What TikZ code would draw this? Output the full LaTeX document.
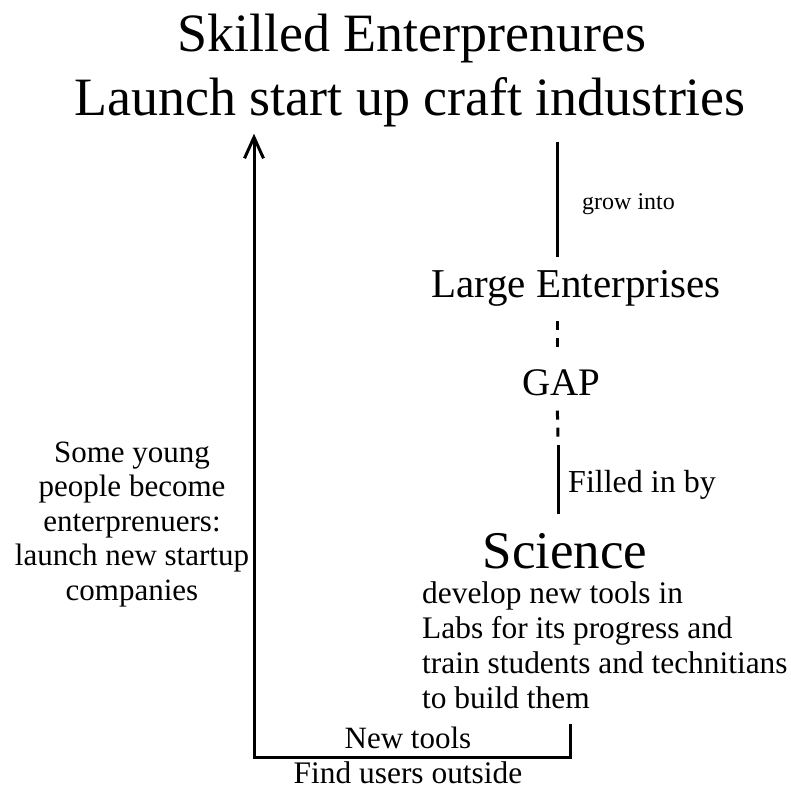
\documentclass[tikz,border=0pt]{standalone}
\usepackage{fontspec}
\setmainfont{Liberation Serif}
\usetikzlibrary{arrows.meta}
\newcommand{\fsz}[2]{\fontsize{#1}{#2}\selectfont}
\begin{document}
\begin{tikzpicture}[x=1pt,y=-1pt,
  word/.style={inner sep=0pt,anchor=base},
  link/.style={line width=3pt},
  gapline/.style={line width=3pt,dash pattern=on 9pt off 8pt},
  >={Straight Barb[length=21pt,width=19pt]}]
\useasboundingbox (0,0) rectangle (791,789);
\node[word,font=\fsz{54}{63}] (title) at (412,52) {Skilled Enterprenures};
\node[word,font=\fsz{54}{63}] (launch) at (410,115) {Launch start up craft industries};
\node[word,anchor=base west,font=\fsz{24}{28}] (grow) at (582,209) {grow into};
\node[word,font=\fsz{41}{48}] (large) at (576,297) {Large Enterprises};
\node[word,font=\fsz{39}{46}] (gap) at (561,395) {GAP};
\node[word,anchor=base west,font=\fsz{32}{38}] (filled) at (568,492) {Filled in by};
\node[word,font=\fsz{53}{62}] (science) at (565,568) {Science};
\node[word,anchor=base west,align=left,font=\fsz{31.4}{35}] (develop) at (422,708) {develop new tools in\\Labs for its progress and\\train students and technitians\\to build them};
\node[word,align=center,font=\fsz{31}{34.5}] (young) at (132,600) {Some young\\people become\\enterprenuers:\\launch new startup\\companies};
\node[word,font=\fsz{31}{36}] (newtools) at (408,748) {New tools};
\node[word,font=\fsz{31.4}{36}] (users) at (408,783) {Find users outside};
\coordinate (trunk) at (557,0);
\coordinate (fillstart) at (558,445);
\coordinate (toolsend) at (570,724);
\coordinate (corner) at (254,757);
\draw[link,shorten <=15pt,shorten >=13pt] (trunk |- launch.south) -- (trunk |- large.north);
\draw[gapline,shorten <=15pt,shorten >=20pt] (trunk |- large.south) -- (trunk |- gap.north);
\draw[gapline,shorten <=15pt] (trunk |- gap.south) -- ([yshift=7pt]fillstart);
\draw[link,shorten >=19pt] (fillstart) -- (fillstart |- science.north);
\draw[link,->,shorten >=7pt] (toolsend) |- (corner) -- (corner |- launch.south);
\end{tikzpicture}
\end{document}
